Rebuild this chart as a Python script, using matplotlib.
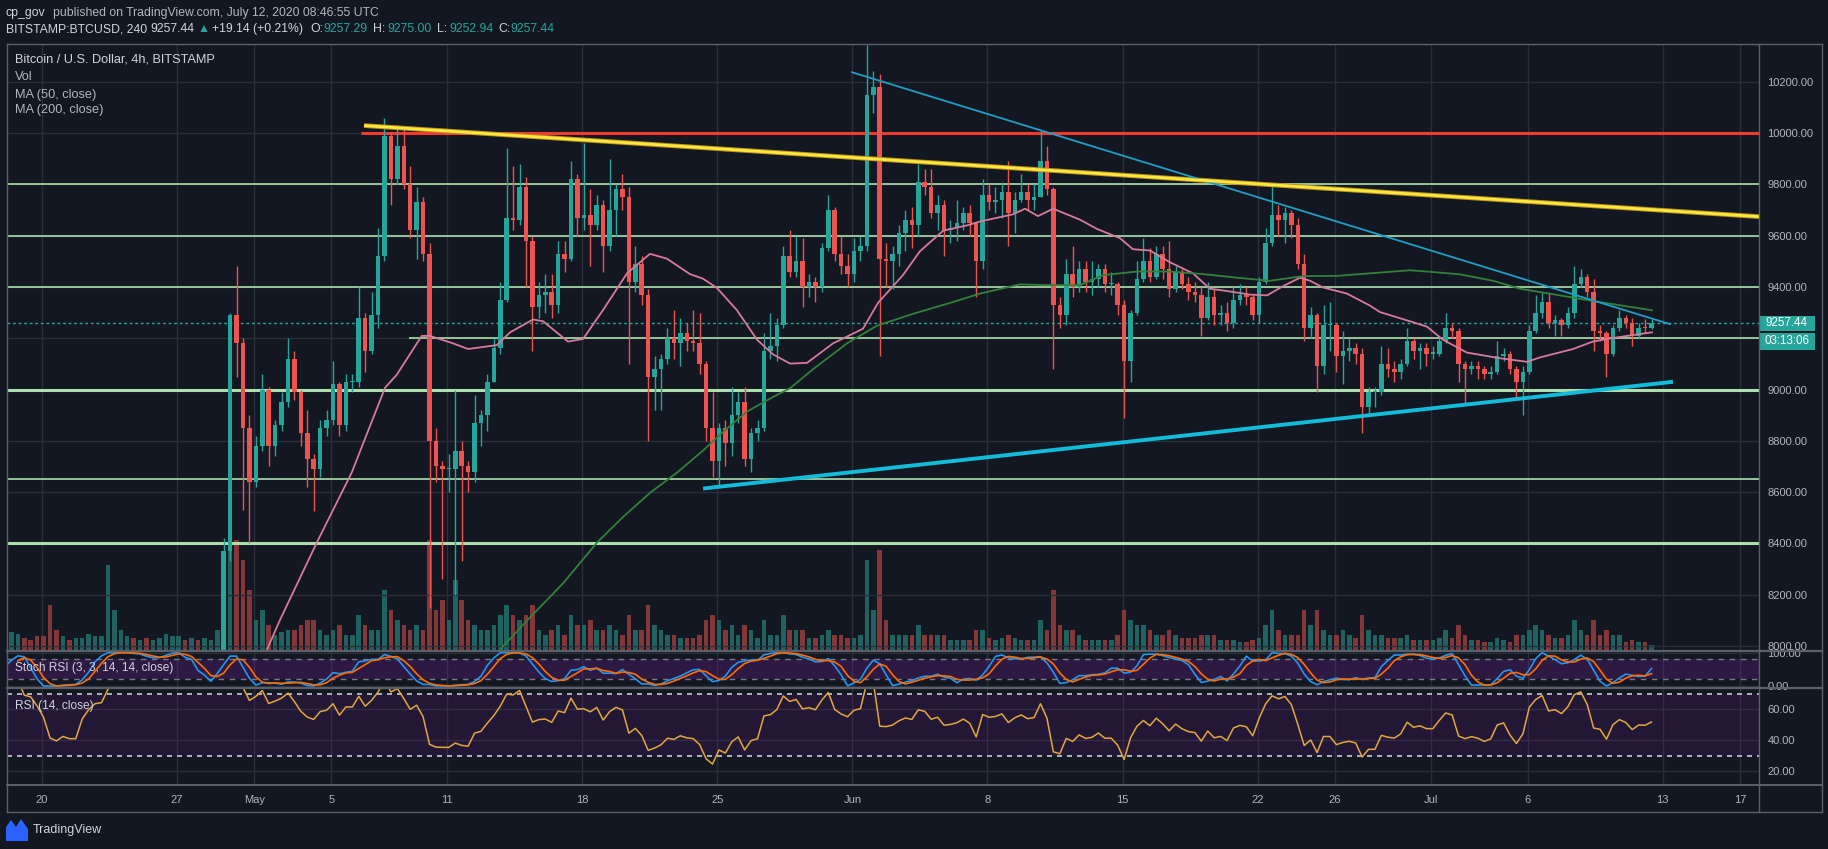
import numpy as np
import pandas as pd
import matplotlib
matplotlib.use("Agg")
import matplotlib.pyplot as plt
from matplotlib.lines import Line2D
from matplotlib.patches import Rectangle, Polygon
import matplotlib.transforms as mtransforms

plt.rcParams['font.family'] = ['Liberation Sans', 'DejaVu Sans']

# ---------------- data (8h candles, BITSTAMP BTCUSD) ----------------
start_time = "2020-04-14 00:00"
first_open = 6880
close = [
    6870, 6900, 6860, 6850, 6800, 6640, 6700, 7020, 7100,          # Apr 14-16
    7080, 7040, 7060, 7110, 7200, 7260, 7180, 7170, 7120,          # Apr 17-19
    7050, 6880, 6850, 6880, 6860, 6860, 6990, 7070, 7130,          # Apr 20-22
    7140, 7300, 7480, 7500, 7530, 7510, 7540, 7520, 7540,          # Apr 23-25
    7600, 7660, 7700, 7740, 7720, 7770, 7730, 7760, 7770,          # Apr 26-28
    7850, 8370, 9290, 9180, 8850, 8640,                            # Apr 29-30
    8780, 9000, 8780, 8860, 8950, 9120, 8990, 8830, 8730,          # May 1-3
    8690, 8850, 8880, 9020, 8860, 9030, 9030, 9280, 9150,          # May 4-6
    9290, 9520, 9990, 9820, 9950, 9800, 9620, 9730, 9530,          # May 7-9
    8800, 8700, 8690, 8690, 8760, 8700, 8680, 8870, 8900,          # May 10-12
    9030, 9160, 9350, 9670, 9660, 9790, 9580, 9320, 9370,          # May 13-15
    9380, 9330, 9530, 9510, 9820, 9670, 9680, 9640, 9720,          # May 16-18
    9560, 9700, 9780, 9750, 9420, 9490, 9370, 9050, 9080,          # May 19-21
    9120, 9200, 9180, 9220, 9190, 9180, 9100, 8850, 8720,          # May 22-24
    8850, 8790, 8900, 8950, 8730, 8830, 8850, 9150, 9170,          # May 25-27
    9250, 9520, 9460, 9500, 9400, 9420, 9400, 9550, 9700,          # May 28-30
    9530, 9480, 9450,                                              # May 31
    9540, 9560, 10150, 10180, 9510, 9500, 9530, 9610, 9660,        # Jun 1-3
    9640, 9810, 9790, 9690, 9720, 9620, 9630, 9650, 9690,          # Jun 4-6
    9650, 9500, 9760, 9730, 9740, 9770, 9690, 9740, 9770,          # Jun 7-9
    9740, 9750, 9890, 9780, 9330, 9290, 9450, 9400, 9470,          # Jun 10-12
    9420, 9430, 9470, 9410, 9410, 9330, 9110, 9300, 9430,          # Jun 13-15
    9500, 9440, 9530, 9470, 9390, 9460, 9410, 9380, 9370,          # Jun 16-18
    9280, 9360, 9290, 9300, 9260, 9350, 9370, 9360, 9290,          # Jun 19-21
    9420, 9570, 9680, 9660, 9690, 9640, 9490, 9240, 9290,          # Jun 22-24
    9090, 9250, 9250, 9130, 9150, 9160, 9140, 8930, 8990,          # Jun 25-27
    8990, 9100, 9080, 9070, 9100, 9190, 9150, 9160, 9140,          # Jun 28-30
    9140, 9190, 9240, 9230, 9100, 9080, 9090, 9080, 9060,          # Jul 1-3
    9070, 9130, 9140, 9080, 9030, 9070, 9230, 9300, 9340,          # Jul 4-6
    9260, 9270, 9250, 9300, 9410, 9440, 9380, 9230, 9220,          # Jul 7-9
    9140, 9240, 9280, 9260, 9210, 9240, 9238.30, 9257.44,          # Jul 10-12
]
high = [
    6920, 6980, 6920, 6930, 6880, 6820, 6740, 7100, 7200,
    7140, 7120, 7100, 7130, 7240, 7300, 7270, 7220, 7200,
    7190, 7080, 6920, 6940, 6920, 6900, 7020, 7110, 7150,
    7200, 7360, 7500, 7560, 7600, 7580, 7590, 7620, 7580,
    7640, 7720, 7730, 7780, 7790, 7800, 7790, 7790, 7800,
    7900, 8420, 9300, 9480, 9200, 8900,
    8820, 9060, 9010, 8880, 8990, 9200, 9150, 9000, 8920,
    8750, 8880, 8920, 9110, 9030, 9060, 9060, 9400, 9300,
    9380, 9630, 10060, 10000, 10030, 10020, 9870, 9790, 9750,
    9570, 8850, 8720, 8750, 9000, 8800, 8720, 8980, 8920,
    9060, 9200, 9420, 9940, 9870, 9880, 9830, 9600, 9420,
    9450, 9450, 9580, 9580, 9890, 9840, 9960, 9780, 9760,
    9740, 9900, 9800, 9840, 9790, 9560, 9520, 9390, 9130,
    9140, 9240, 9310, 9280, 9260, 9310, 9300, 9110, 8990,
    8870, 8880, 9010, 8990, 9010, 8850, 8880, 9220, 9300,
    9280, 9560, 9620, 9600, 9590, 9450, 9440, 9570, 9760,
    9710, 9600, 9530,
    9590, 9600, 10345, 10240, 10230, 9570, 9560, 9640, 9700,
    9710, 9880, 9860, 9860, 9760, 9740, 9660, 9740, 9710,
    9720, 9650, 9820, 9800, 9790, 9810, 9890, 9770, 9840,
    9800, 9800, 10010, 9950, 9790, 9360, 9510, 9560, 9500,
    9500, 9500, 9490, 9490, 9460, 9420, 9350, 9310, 9500,
    9590, 9550, 9560, 9560, 9580, 9480, 9470, 9440, 9420,
    9400, 9420, 9390, 9330, 9340, 9400, 9410, 9400, 9370,
    9440, 9630, 9800, 9720, 9710, 9700, 9670, 9530, 9320,
    9300, 9330, 9340, 9260, 9230, 9200, 9180, 9160, 9010,
    9010, 9170, 9160, 9110, 9120, 9240, 9200, 9180, 9180,
    9170, 9200, 9300, 9260, 9240, 9110, 9110, 9110, 9090,
    9090, 9190, 9160, 9150, 9090, 9090, 9250, 9370, 9380,
    9380, 9290, 9280, 9320, 9480, 9470, 9450, 9430, 9250,
    9230, 9250, 9310, 9290, 9280, 9260, 9275, 9275,
]
low = [
    6820, 6840, 6780, 6800, 6760, 6600, 6560, 6680, 6990,
    7010, 6980, 7000, 7040, 7090, 7180, 7150, 7100, 7050,
    7000, 6800, 6790, 6810, 6820, 6800, 6840, 6960, 7050,
    7040, 7120, 7280, 7420, 7460, 7470, 7480, 7450, 7490,
    7510, 7570, 7630, 7660, 7680, 7700, 7660, 7700, 7720,
    7730, 7840, 8330, 9050, 8530, 8400,
    8620, 8760, 8700, 8740, 8840, 8930, 8960, 8780, 8620,
    8525, 8660, 8820, 8860, 8820, 8840, 8990, 9010, 9070,
    9140, 9240, 9500, 9720, 9800, 9780, 9590, 9510, 9500,
    8150, 8640, 8260, 8600, 8200, 8330, 8600, 8640, 8780,
    8840, 9030, 9140, 9340, 9620, 9640, 9400, 9150, 9280,
    9300, 9280, 9300, 9460, 9500, 9600, 9620, 9480, 9620,
    9460, 9540, 9600, 9700, 9100, 9380, 9330, 8800, 8920,
    8920, 9100, 9120, 9090, 9150, 9150, 9060, 8800, 8660,
    8620, 8700, 8740, 8870, 8700, 8680, 8800, 8840, 9120,
    9110, 9240, 9440, 9440, 9320, 9360, 9340, 9380, 9540,
    9500, 9450, 9400,
    9420, 9500, 9540, 10080, 9130, 9400, 9390, 9480, 9540,
    9550, 9600, 9760, 9670, 9620, 9520, 9570, 9580, 9620,
    9600, 9360, 9470, 9700, 9690, 9670, 9560, 9610, 9730,
    9700, 9700, 9750, 9760, 9080, 9240, 9250, 9360, 9380,
    9380, 9370, 9400, 9380, 9370, 9290, 8890, 9030, 9290,
    9420, 9420, 9430, 9430, 9360, 9380, 9390, 9350, 9340,
    9210, 9270, 9250, 9250, 9230, 9240, 9330, 9330, 9270,
    9260, 9410, 9560, 9600, 9570, 9590, 9470, 9190, 9200,
    8990, 9060, 9150, 9070, 9020, 9110, 9100, 8830, 8900,
    8930, 8980, 9050, 9030, 9040, 9090, 9120, 9080, 9090,
    9120, 9130, 9180, 9200, 9030, 8940, 9060, 9040, 9040,
    9040, 9060, 9110, 9060, 8960, 8900, 9060, 9220, 9280,
    9240, 9210, 9210, 9240, 9280, 9400, 9360, 9150, 9190,
    9050, 9130, 9230, 9240, 9170, 9200, 9220, 9236,
]
volume = [
    15, 15, 20, 12, 15, 25, 30, 40, 30,
    12, 10, 14, 10, 18, 16, 12, 10, 14,
    14, 45, 20, 14, 10, 12, 12, 16, 14,
    14, 85, 40, 20, 14, 12, 10, 12, 10,
    12, 16, 14, 14, 10, 12, 10, 12, 10,
    20, 60, 100, 110, 90, 60,
    30, 40, 25, 15, 18, 20, 20, 25, 30,
    30, 20, 15, 20, 25, 15, 15, 35, 25,
    20, 20, 60, 40, 30, 25, 20, 25, 20,
    110, 40, 50, 30, 70, 50, 30, 25, 20,
    20, 25, 35, 45, 35, 30, 35, 45, 20,
    15, 20, 25, 15, 35, 25, 25, 30, 20,
    20, 25, 20, 15, 35, 20, 20, 45, 25,
    20, 15, 15, 12, 12, 12, 15, 30, 35,
    30, 20, 25, 15, 25, 20, 12, 30, 15,
    15, 35, 20, 20, 20, 12, 12, 15, 20,
    15, 15, 12,
    12, 15, 90, 40, 100, 30, 15, 15, 15,
    15, 25, 15, 15, 15, 15, 10, 10, 10,
    10, 20, 20, 12, 10, 12, 15, 12, 10,
    10, 10, 30, 20, 60, 25, 20, 20, 15,
    10, 10, 10, 10, 10, 15, 40, 30, 25,
    25, 20, 15, 15, 20, 15, 12, 12, 12,
    15, 15, 15, 10, 10, 10, 8, 8, 10,
    12, 25, 40, 20, 15, 15, 15, 40, 25,
    40, 20, 15, 15, 20, 15, 12, 35, 20,
    15, 15, 12, 12, 12, 15, 10, 10, 10,
    10, 12, 20, 12, 25, 15, 10, 10, 8,
    8, 12, 10, 8, 15, 15, 20, 25, 20,
    15, 12, 12, 15, 30, 20, 15, 30, 15,
    20, 15, 15, 8, 10, 8, 8, 5,
]

# moving averages (day offset from 2020-04-20, price)
ma50_day = [11.65, 12.33, 14.24, 16.05, 17.78, 18.38, 19.68, 20.11, 21.30, 22.08, 23.57, 24.26,
            25.45, 25.97, 27.26, 28.04, 29.07, 30.32, 31.51, 32.39, 33.58, 34.26, 34.98, 36.02,
            37.06, 37.89, 38.77, 39.65, 41.00, 42.55, 43.33, 44.62, 45.50, 46.70, 47.94, 48.61,
            50.32, 50.95, 51.62, 52.40, 53.80, 54.68, 55.87, 56.54, 57.42, 58.46, 59.65, 60.53,
            61.41, 62.61, 63.49, 64.32, 65.20, 65.72, 66.39, 67.63, 68.83, 69.34, 70.90, 71.78,
            72.61, 73.85, 75.56, 76.96, 77.63, 79.35, 80.38, 81.42, 83.44]
ma50_val = [7984, 8101, 8403, 8676, 9007, 9057, 9209, 9209, 9180, 9158, 9173, 9223,
            9273, 9266, 9187, 9197, 9309, 9453, 9529, 9510, 9450, 9432, 9396, 9309,
            9194, 9137, 9101, 9104, 9180, 9237, 9338, 9446, 9539, 9619, 9640, 9655,
            9683, 9705, 9676, 9705, 9662, 9626, 9590, 9547, 9542, 9496, 9453, 9393,
            9384, 9370, 9367, 9403, 9436, 9424, 9398, 9374, 9327, 9302, 9266, 9245,
            9194, 9144, 9122, 9108, 9125, 9158, 9187, 9201, 9223]
ma200_day = [23.79, 25.19, 27.00, 28.76, 30.11, 31.51, 32.91, 34.26, 35.29, 36.54, 37.89, 38.77,
             39.96, 41.72, 43.28, 45.14, 47.21, 48.61, 50.69, 52.09, 53.80, 54.99, 56.75, 58.46,
             60.17, 61.93, 63.64, 65.35, 67.12, 68.83, 70.90, 72.09, 73.49, 75.20, 76.60, 78.67,
             80.38, 83.44]
ma200_val = [7990, 8103, 8244, 8403, 8503, 8597, 8676, 8762, 8834, 8914, 8971, 9005,
             9079, 9180, 9249, 9295, 9341, 9374, 9410, 9407, 9407, 9446, 9460, 9460,
             9450, 9436, 9424, 9442, 9443, 9453, 9465, 9458, 9449, 9424, 9393, 9367,
             9345, 9309]

# drawings on the chart: (start day, start price, end day, end price)
yellow_line = (16.69, 10029, 88.99, 9674)
thin_teal_line = (41.98, 10237, 84.37, 9255)
cyan_support = (34.26, 8614, 84.53, 9030)
red_level = (10000, 16.53)
# horizontal levels: price, start day (None = left edge), width
levels = [(9800, None, 1.2), (9600, None, 1.2), (9400, None, 1.2), (9200, 19.04, 1.2),
          (9000, None, 2.2), (8650, None, 1.2), (8400, None, 2.2)]

tick_dates = ["2020-04-20", "2020-04-27", "2020-05-01", "2020-05-05", "2020-05-11", "2020-05-18",
              "2020-05-25", "2020-06-01", "2020-06-08", "2020-06-15", "2020-06-22", "2020-06-26",
              "2020-07-01", "2020-07-06", "2020-07-13", "2020-07-17"]
tick_labels = ["20", "27", "May", "5", "11", "18", "25", "Jun", "8", "15", "22", "26",
               "Jul", "6", "13", "17"]
price_ticks = [8000, 8200, 8400, 8600, 8800, 9000, 9400, 9600, 9800, 10000, 10200]

# ---------------- styling ----------------
W, H = 1828, 849
BG = "#131722"
GRID = "#2a2e39"
TXT = "#b2b5be"
LEG = "#d1d4dc"
UP, DN = "#26a69a", "#ef5350"
VUP, VDN = "#1f625f", "#843739"
LEVEL = "#addfae"
BORDER = "#5d606b"

REF = pd.Timestamp("2020-04-20")
times = pd.date_range(start_time, periods=len(close), freq="8h")
xd = np.asarray((times - REF) / pd.Timedelta(days=1)) + 2 / 24.0
tick_x = [(pd.Timestamp(t) - REF) / pd.Timedelta(days=1) for t in tick_dates]

o = np.array([first_open] + close[:-1], dtype=float)
c = np.array(close, dtype=float)
h = np.array(high, dtype=float)
l = np.array(low, dtype=float)
v = np.array(volume, dtype=float)
up = c >= o

# indicators computed from the closes
cs = pd.Series(c)
delta = cs.diff()
n = 10
ag = delta.clip(lower=0).ewm(alpha=1 / n, adjust=False).mean()
al = (-delta).clip(lower=0).ewm(alpha=1 / n, adjust=False).mean()
rsi = 100 - 100 / (1 + ag / al)
lo, hi = rsi.rolling(10).min(), rsi.rolling(10).max()
stoch = (rsi - lo) / (hi - lo) * 100
k_line = stoch.rolling(3).mean()
d_line = k_line.rolling(3).mean()

fig = plt.figure(figsize=(W / 100, H / 100), dpi=100, facecolor=BG)


def rect(x0, y0, x1, y1):
    return [x0 / W, 1 - y1 / H, (x1 - x0) / W, (y1 - y0) / H]


PL, PR = 7, 1759
ax_vol = fig.add_axes(rect(PL, 44, PR, 650))
ax = fig.add_axes(rect(PL, 44, PR, 650), sharex=ax_vol)
ax_st = fig.add_axes(rect(PL, 650, PR, 688), sharex=ax_vol)
ax_rsi = fig.add_axes(rect(PL, 688, PR, 785), sharex=ax_vol)
for a in (ax_vol, ax, ax_st, ax_rsi):
    a.set_facecolor(BG)
    for s in a.spines.values():
        s.set_visible(False)
ax.set_facecolor("none")

XMIN, XMAX = -1.814, 88.987
PMIN, PMAX = 7984.4, 10347.1
ax_vol.set_xlim(XMIN, XMAX)
ax.set_ylim(PMIN, PMAX)
ax_vol.set_ylim(0, 606)
ax_st.set_ylim(-6, 108)
ax_rsi.set_ylim(11.2, 73.7)

# grids
for a in (ax_vol, ax_st, ax_rsi):
    for tx in tick_x:
        a.axvline(tx, color=GRID, lw=1, zorder=0)
for p in range(8000, 10400, 200):
    ax.axhline(p, color=GRID, lw=1, zorder=0)
for p in (0, 100):
    ax_st.axhline(p, color=GRID, lw=1, zorder=0)
for p in (20, 40, 60):
    ax_rsi.axhline(p, color=GRID, lw=1, zorder=0)

# volume
ax_vol.bar(xd, v, width=0.235, color=np.where(up, VUP, VDN), linewidth=0, zorder=2)

# horizontal levels
for price, sd, lw in levels:
    ax.hlines(price, XMIN if sd is None else sd, XMAX, color=LEVEL, lw=lw, zorder=2)
ax.hlines(red_level[0], red_level[1], XMAX, color="#f23a2f", lw=2.2, zorder=2)

# last price line
last = c[-1]
ax.axhline(last, color=UP, lw=1, ls=(0, (2, 2)), zorder=2.5)

# candles
col = np.where(up, UP, DN)
ax.vlines(xd, np.minimum(l, np.minimum(o, c)), np.maximum(h, np.maximum(o, c)),
          colors=col, lw=1, zorder=3)
upp = (PMAX - PMIN) / 606.0
ax.bar(xd, np.maximum(np.abs(c - o), 1.2 * upp), bottom=np.minimum(o, c), width=0.235,
       color=col, linewidth=0, zorder=3.5)

# moving averages
ax.plot(ma50_day, ma50_val, color="#d77a9b", lw=1.3, zorder=4)
ax.plot(ma200_day, ma200_val, color="#32803a", lw=1.3, zorder=4)

# drawings
ax.plot([yellow_line[0], yellow_line[2]], [yellow_line[1], yellow_line[3]],
        color="#b8902a", lw=3.4, zorder=5, solid_capstyle="butt")
ax.plot([yellow_line[0], yellow_line[2]], [yellow_line[1], yellow_line[3]],
        color="#ffe83a", lw=2.0, zorder=5.1, solid_capstyle="butt")
ax.plot([thin_teal_line[0], thin_teal_line[2]], [thin_teal_line[1], thin_teal_line[3]],
        color="#1f9fc4", lw=1.3, zorder=5)
ax.plot([cyan_support[0], cyan_support[2]], [cyan_support[1], cyan_support[3]],
        color="#12bcd8", lw=2.8, zorder=5, solid_capstyle="butt")

# stoch RSI pane
ax_st.axhspan(20, 80, color="#7b1fa2", alpha=0.25, lw=0, zorder=0.5)
for p in (80, 20):
    ax_st.axhline(p, color="#787b86", lw=1, ls=(0, (4, 4)), zorder=1)
ax_st.plot(xd, k_line, color="#2196f3", lw=1.2, zorder=3)
ax_st.plot(xd, d_line, color="#ff6d00", lw=1.2, zorder=3.1)

# RSI pane
ax_rsi.axhspan(30, 70, color="#7b1fa2", alpha=0.15, lw=0, zorder=0.5)
for p in (70, 30):
    ax_rsi.axhline(p, color="#c8cad0", lw=1.2, ls=(0, (3, 3)), zorder=1)
ax_rsi.plot(xd, rsi, color="#e2a73c", lw=1.1, zorder=3)

# axes ticks
ax_vol.tick_params(left=False, labelleft=False, bottom=False, labelbottom=False)
ax.yaxis.tick_right()
ax.set_yticks(price_ticks)
ax.set_yticklabels([f"{p:.2f}" for p in price_ticks])
ax.tick_params(axis="y", length=0, pad=6, labelsize=8.0, labelcolor=TXT)
ax.tick_params(axis="x", bottom=False, labelbottom=False)
ax_st.yaxis.tick_right()
ax_st.set_yticks([0, 100])
ax_st.set_yticklabels(["0.00", "100.00"])
ax_st.tick_params(axis="y", length=0, pad=6, labelsize=8.0, labelcolor=TXT)
ax_st.tick_params(axis="x", bottom=False, labelbottom=False)
ax_rsi.yaxis.tick_right()
ax_rsi.set_yticks([20, 40, 60])
ax_rsi.set_yticklabels(["20.00", "40.00", "60.00"])
ax_rsi.tick_params(axis="y", length=0, pad=6, labelsize=8.0, labelcolor=TXT)
ax_rsi.set_xticks(tick_x)
ax_rsi.set_xticklabels(tick_labels)
ax_rsi.tick_params(axis="x", length=0, pad=7, labelsize=8.0, labelcolor=TXT)

# price label boxes on the right scale
bt = mtransforms.blended_transform_factory(fig.transFigure, ax.transData)
ax.add_patch(Rectangle((1759 / W, last - 7.8 * upp), 56 / W, 15.6 * upp, transform=bt,
                       fc=UP, ec="none", clip_on=False, zorder=10))
ax.text(1787 / W, last, f"{last:.2f}", transform=bt, ha="center", va="center",
        color="white", fontsize=8.4, clip_on=False, zorder=11)
ax.add_patch(Rectangle((1759 / W, last - 26.3 * upp), 56 / W, 16.6 * upp, transform=bt,
                       fc=UP, ec="none", clip_on=False, zorder=10))
ax.text(1787 / W, last - 18.0 * upp, "03:13:06", transform=bt, ha="center", va="center",
        color="white", fontsize=8.4, clip_on=False, zorder=11)


# frame lines
def fline(x0, y0, x1, y1, color=BORDER, lw=1.0):
    fig.add_artist(Line2D([x0 / W, x1 / W], [1 - y0 / H, 1 - y1 / H],
                          transform=fig.transFigure, color=color, lw=lw))


fline(7, 44, 1822, 44)
fline(7, 812, 1822, 812)
fline(7, 44, 7, 812)
fline(1822, 44, 1822, 812)
fline(1759, 44, 1759, 812)
fline(7, 650.5, 1822, 650.5, lw=1.6)
fline(7, 688, 1822, 688, lw=1.6)
fline(7, 785, 1822, 785, lw=1.4)


def ftext(x, y, s, **kw):
    kw.setdefault("va", "center")
    kw.setdefault("ha", "left")
    fig.text(x / W, 1 - y / H, s, **kw)


# header
HS = 8.8
ftext(6, 13, "cp_gov", color=LEG, fontsize=HS)
ftext(53, 13, "published on TradingView.com, July 12, 2020 08:46:55 UTC", color=TXT, fontsize=HS)
ftext(6, 29, "BITSTAMP:BTCUSD, 240", color=LEG, fontsize=HS)
ftext(150, 29, "9257.44", color=LEG, fontsize=HS)
ftext(198, 29, "\u25B2", color=UP, fontsize=HS)
ftext(212, 29, "+19.14 (+0.21%)", color=LEG, fontsize=HS)
ftext(310, 29, "O:", color=LEG, fontsize=HS)
ftext(323, 29, "9257.29", color=UP, fontsize=HS)
ftext(373, 29, "H:", color=LEG, fontsize=HS)
ftext(387, 29, "9275.00", color=UP, fontsize=HS)
ftext(437, 29, "L:", color=LEG, fontsize=HS)
ftext(449, 29, "9252.94", color=UP, fontsize=HS)
ftext(498, 29, "C:", color=LEG, fontsize=HS)
ftext(510, 29, "9257.44", color=UP, fontsize=HS)

# legends
ftext(15, 60, "Bitcoin / U.S. Dollar, 4h, BITSTAMP", color=LEG, fontsize=9.2)
ftext(15, 77, "Vol", color=TXT, fontsize=9.2)
ftext(15, 95, "MA (50, close)", color=TXT, fontsize=9.2)
ftext(15, 110, "MA (200, close)", color=TXT, fontsize=9.2)
ftext(15, 668, "Stoch RSI (3, 3, 14, 14, close)", color=LEG, fontsize=8.6)
ftext(15, 706, "RSI (14, close)", color=LEG, fontsize=8.6)

# footer logo
logo = [(6, 841), (6, 827), (11, 820), (16, 827), (21, 819), (28, 829), (28, 841)]
fig.add_artist(Polygon([(x / W, 1 - y / H) for x, y in logo], closed=True,
                       transform=fig.transFigure, fc="#2962ff", ec="none"))
ftext(33, 830, "TradingView", color=LEG, fontsize=9)

fig.savefig("out.png", dpi=100, facecolor=BG)
